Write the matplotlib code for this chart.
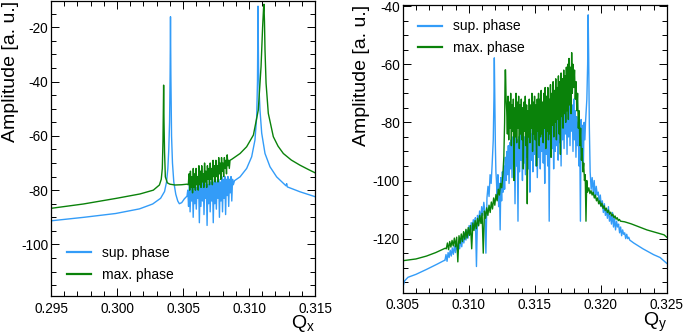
import numpy as np
import matplotlib
matplotlib.use('Agg')
import matplotlib.pyplot as plt
from matplotlib.ticker import MultipleLocator, FormatStrFormatter

plt.rcParams['font.family'] = ['Liberation Sans', 'DejaVu Sans']
plt.rcParams['mathtext.default'] = 'regular'
plt.rcParams['axes.unicode_minus'] = False

BLUE = '#339cf8'
GREEN = '#0a820a'

# ---------------- horizontal tune (Q_x) ----------------
# sup. phase
qx_sup_a = [0.2950, 0.2975, 0.2999, 0.3017, 0.3027, 0.3033, 0.3036, 0.30375, 0.30385, 0.30392,
            0.30398, 0.30402, 0.30405, 0.30408, 0.30413, 0.30420, 0.30430, 0.30445, 0.30460,
            0.30472, 0.30490, 0.30510, 0.30530]
amp_x_sup_a = [-91.3, -90.0, -88.6, -86.9, -85.1, -83.0, -80.5, -77.0, -72.0, -65.0,
               -55.0, -38.0, -16.1, -38.0, -60.0, -70.0, -77.0, -81.5, -84.0,
               -85.0, -84.6, -83.2, -82.2]
qx_sup_noise = (0.30536, 0.30881)
amp_x_sup_noise = [-80, -86, -78, -88, -79, -84, -77, -90, -79, -85,
                   -78, -87, -79, -83, -77, -92, -78, -86, -77, -84,
                   -76, -89, -78, -83, -77, -93, -78, -85, -76, -88,
                   -77, -84, -76, -92, -77, -85, -76, -87, -77, -83,
                   -76, -90, -77, -84, -75, -88, -76, -83, -75, -89,
                   -76, -82, -75, -86, -76, -81, -75, -84, -76, -78]
qx_sup_b = [0.30890, 0.30932, 0.30982, 0.31020, 0.31045, 0.31058, 0.31064, 0.31068, 0.31072,
            0.31078, 0.31083, 0.31096, 0.31121, 0.31159, 0.31209, 0.31280, 0.31285, 0.31290,
            0.31386, 0.3150]
amp_x_sup_b = [-76.5, -75.1, -72.0, -67.7, -61.5, -53.0, -40.0, -12.2, -34.5,
               -45.0, -50.5, -59.0, -66.5, -71.4, -75.1, -78.4, -77.6, -78.8,
               -80.6, -82.4]

# max. phase
qx_max_a = [0.2950, 0.29745, 0.29997, 0.30174, 0.30275, 0.30321, 0.30335, 0.30343, 0.30348,
            0.30351, 0.30353, 0.30356, 0.30360, 0.30366, 0.30381, 0.30400, 0.30440, 0.30490,
            0.30530]
amp_x_max_a = [-86.7, -85.1, -83.0, -81.4, -80.0, -78.1, -76.0, -72.0, -62.0,
               -50.0, -41.3, -55.0, -66.0, -75.1, -77.3, -77.8, -78.1, -78.0,
               -77.8]
qx_max_noise = (0.3054, 0.30856)
amp_x_max_noise = [-78, -74, -80, -73, -79, -75, -81, -72, -79, -74,
                   -80, -72, -78, -75, -80, -71, -78, -73, -79, -71,
                   -77, -74, -79, -70, -77, -73, -79, -71, -76, -72,
                   -78, -70, -76, -72, -78, -69, -75, -71, -77, -69,
                   -75, -71, -77, -68, -74, -70, -76, -68, -73, -70,
                   -75, -68, -72, -69, -74, -67, -71, -69, -72, -69]
qx_max_b = [0.30870, 0.30932, 0.30982, 0.31033, 0.31070, 0.31091, 0.31103, 0.31110, 0.31113,
            0.31117, 0.31121, 0.31129, 0.31146, 0.31184, 0.31220, 0.31260, 0.31320, 0.31386,
            0.31450, 0.3150]
amp_x_max_b = [-68.6, -66.5, -64.0, -59.7, -50.5, -34.5, -19.8, -13.0, -11.5,
               -18.0, -28.4, -40.6, -51.7, -60.3, -63.8, -66.5, -68.9, -70.8,
               -72.4, -73.6]

# ---------------- vertical tune (Q_y) ----------------
# sup. phase
qy_sup_a = [0.3050, 0.30505, 0.30515, 0.3054, 0.3060, 0.3068, 0.3076, 0.30815]
amp_y_sup_a = [-138.0, -136.0, -134.5, -133.3, -132.3, -130.6, -128.8, -127.5]
qy_sup_noise1 = (0.30820, 0.31170)
amp_y_sup_noise1 = [-127.5, -125.5, -127.8, -124.8, -126.5, -124.0, -126.0, -123.2, -125.4, -122.5,
                    -124.8, -121.8, -124.0, -121.0, -123.5, -120.0, -122.8, -119.2, -121.5, -118.0,
                    -120.5, -117.0, -119.8, -115.5, -118.6, -114.5, -117.0, -113.5, -116.0, -112.8,
                    -129.6, -112.0, -115.0, -110.5, -113.5, -109.0, -112.0, -107.5, -110.5, -125.0,
                    -106.0, -102.0, -105.5, -98.0, -101.0]
qy_sup_peak1 = [0.31178, 0.31186, 0.31191, 0.31194, 0.31197, 0.31202, 0.31206]
amp_y_sup_peak1 = [-94.0, -86.0, -72.0, -57.8, -70.0, -88.0, -97.0]
qy_sup_noise2 = (0.31210, 0.31880)
amp_y_sup_noise2 = [-100, -106, -98, -109, -101, -117, -99, -107, -97, -104,
                    -95, -103, -92, -100, -90, -98, -88, -101, -87, -96,
                    -86, -99, -85, -94, -87, -108, -84, -95, -86, -114,
                    -85, -97, -83, -93, -86, -100, -82, -94, -85, -98,
                    -84, -92, -82, -96, -85, -104, -81, -93, -84, -97,
                    -82, -91, -80, -95, -83, -99, -81, -92, -84, -96,
                    -80, -90, -79, -94, -82, -101, -78, -91, -81, -95,
                    -79, -114, -77, -92, -80, -89, -76, -96, -79, -90,
                    -75, -88, -73, -93, -77, -87, -72, -95, -75, -86,
                    -70, -89, -68, -84, -72, -91, -70, -85, -73, -88,
                    -71, -83, -74, -90, -72, -86, -76, -92, -78, -88,
                    -80, -95, -82, -114, -79, -90, -81, -94, -80, -86]
qy_sup_peak2 = [0.31885, 0.31895, 0.31901, 0.31905, 0.31909, 0.31914]
amp_y_sup_peak2 = [-80.0, -72.0, -60.0, -43.0, -58.0, -82.0]
qy_sup_noise3 = (0.31920, 0.32220)
amp_y_sup_noise3 = [-97, -103, -99, -104, -100, -106, -102, -105, -104, -108,
                    -105, -109, -107, -111, -108, -112, -110, -113, -109, -114,
                    -112, -115, -111, -116, -113, -117, -114, -116, -115, -118,
                    -116, -119, -117, -118.5, -118, -120, -118.5, -120, -119.5, -120.5]
qy_sup_b = [0.3225, 0.3232, 0.3240, 0.3245, 0.3250]
amp_y_sup_b = [-121.5, -123.5, -125.5, -126.5, -128.5]

# max. phase
qy_max_a = [0.3050, 0.3060, 0.3068, 0.3075, 0.30822]
amp_y_max_a = [-127.6, -127.0, -126.0, -124.8, -123.3]
qy_max_noise1 = (0.30830, 0.31259)
amp_y_max_noise1 = [-123.5, -121.5, -123.8, -121.0, -122.9, -120.6, -122.5, -119.8, -122.8, -119.5,
                    -128.0, -119.0, -121.6, -118.4, -121.0, -117.6, -120.2, -116.8, -119.8, -116.2,
                    -118.9, -115.5, -123.5, -114.6, -117.2, -113.8, -116.6, -113.0, -115.6, -112.0,
                    -114.8, -111.3, -125.0, -110.5, -113.0, -109.4, -112.0, -108.5, -111.0, -107.4,
                    -109.8, -106.0, -108.5, -104.8, -107.0, -103.0, -105.0, -101.0, -102.5, -98.0]
qy_max_peak = [0.31266, 0.31272, 0.31276, 0.31279, 0.31283]
amp_y_max_peak = [-92.0, -80.0, -62.0, -61.9, -72.0]
qy_max_noise2 = (0.31288, 0.31785)
amp_y_max_noise2 = [-76, -84, -71, -86, -73, -82, -70, -88, -74, -83,
                    -72, -100, -75, -85, -70, -87, -73, -82, -71, -89,
                    -74, -84, -72, -86, -75, -96, -73, -83, -71, -88,
                    -74, -108, -76, -85, -72, -87, -74, -82, -70, -90,
                    -73, -84, -71, -86, -74, -95, -72, -83, -70, -88,
                    -72, -85, -69, -84, -73, -87, -70, -82, -68, -89,
                    -71, -83, -68, -86, -72, -84, -67, -92, -70, -81,
                    -66, -85, -69, -80, -65, -86, -68, -79, -64, -84,
                    -66, -91, -63, -78, -65, -82, -62, -77, -64, -80,
                    -61, -76, -60, -79, -58, -74, -61, -77, -56, -70]
qy_max_noise3 = (0.31790, 0.31900)
amp_y_max_noise3 = [-60, -68, -62, -72, -66, -76, -70, -82, -76, -88,
                    -82, -93, -89, -97, -94, -100, -98, -114, -100, -104]
qy_max_noise4 = (0.31910, 0.32150)
amp_y_max_noise4 = [-102.5, -104.5, -103.5, -105.0, -104.0, -106.0, -105.0, -107.0, -106.0, -108.0,
                    -107.0, -108.8, -107.8, -109.6, -108.7, -110.3, -109.5, -111.0, -110.2, -111.6,
                    -110.9, -112.2, -111.6, -112.8, -112.2, -113.3, -112.8, -113.8, -113.4, -114.0]
qy_max_b = [0.3218, 0.3223, 0.3235, 0.3248, 0.3250]
amp_y_max_b = [-114.2, -114.9, -117.0, -118.7, -119.5]


def join(*parts):
    qs, amps = [], []
    for q, a in parts:
        if isinstance(q, tuple):
            q = np.linspace(q[0], q[1], len(a))
        qs.append(np.asarray(q))
        amps.append(np.asarray(a, dtype=float))
    return np.concatenate(qs), np.concatenate(amps)


def style_axes(ax, xlo, xhi, ylo, yhi):
    ax.set_xlim(xlo, xhi)
    ax.set_ylim(ylo, yhi)
    ax.xaxis.set_major_locator(MultipleLocator(0.005))
    ax.xaxis.set_minor_locator(MultipleLocator(0.001))
    ax.yaxis.set_major_locator(MultipleLocator(20))
    ax.yaxis.set_minor_locator(MultipleLocator(5))
    ax.xaxis.set_major_formatter(FormatStrFormatter('%.3f'))
    ax.yaxis.set_major_formatter(FormatStrFormatter('%d'))
    ax.tick_params(which='both', direction='in', top=True, right=True, labelsize=9.8, width=0.7)
    ax.tick_params(which='major', length=6)
    ax.tick_params(which='minor', length=3.5)
    ax.tick_params(axis='x', pad=4)
    ax.tick_params(axis='y', pad=2)
    for s in ax.spines.values():
        s.set_linewidth(0.9)


fig = plt.figure(figsize=(6.85, 3.34), dpi=100)
ax1 = fig.add_axes([0.0745, 0.1138, 0.3854, 0.8832])
ax2 = fig.add_axes([0.5879, 0.1237, 0.3854, 0.8614])

x, y = join((qx_sup_a, amp_x_sup_a), (qx_sup_noise, amp_x_sup_noise), (qx_sup_b, amp_x_sup_b))
ax1.plot(x, y, color=BLUE, lw=1.0, label='sup. phase')
x, y = join((qx_max_a, amp_x_max_a), (qx_max_noise, amp_x_max_noise), (qx_max_b, amp_x_max_b))
ax1.plot(x, y, color=GREEN, lw=1.0, label='max. phase')

x, y = join((qy_sup_a, amp_y_sup_a), (qy_sup_noise1, amp_y_sup_noise1), (qy_sup_peak1, amp_y_sup_peak1),
            (qy_sup_noise2, amp_y_sup_noise2), (qy_sup_peak2, amp_y_sup_peak2),
            (qy_sup_noise3, amp_y_sup_noise3), (qy_sup_b, amp_y_sup_b))
ax2.plot(x, y, color=BLUE, lw=1.0, label='sup. phase')
x, y = join((qy_max_a, amp_y_max_a), (qy_max_noise1, amp_y_max_noise1), (qy_max_peak, amp_y_max_peak),
            (qy_max_noise2, amp_y_max_noise2), (qy_max_noise3, amp_y_max_noise3),
            (qy_max_noise4, amp_y_max_noise4), (qy_max_b, amp_y_max_b))
ax2.plot(x, y, color=GREEN, lw=1.0, label='max. phase')

style_axes(ax1, 0.295, 0.315, -119.0, -10.3)
style_axes(ax2, 0.305, 0.325, -138.6, -39.6)

ax1.set_ylabel('Amplitude [a. u.]', fontsize=14, loc='top')
ax1.yaxis.set_label_coords(-0.122, 1.0)
ax1.set_xlabel('Q$_x$', fontsize=14, loc='right')
ax1.xaxis.set_label_coords(1.0, -0.058)
ax2.set_ylabel('Amplitude [a. u.]', fontsize=14, loc='top')
ax2.yaxis.set_label_coords(-0.125, 1.0)
ax2.set_xlabel('Q$_y$', fontsize=14, loc='right')
ax2.xaxis.set_label_coords(1.0, -0.064)

leg_kw = dict(loc='upper left', frameon=False, fontsize=10, handlelength=1.75,
              handletextpad=0.75, borderaxespad=0, borderpad=0, labelspacing=0.55)
leg = ax1.legend(bbox_to_anchor=(0.061, 0.169), **leg_kw)
for ln in leg.get_lines():
    ln.set_linewidth(1.6)
leg = ax2.legend(bbox_to_anchor=(0.058, 0.95), **leg_kw)
for ln in leg.get_lines():
    ln.set_linewidth(1.6)

fig.savefig('out.png', dpi=100)
